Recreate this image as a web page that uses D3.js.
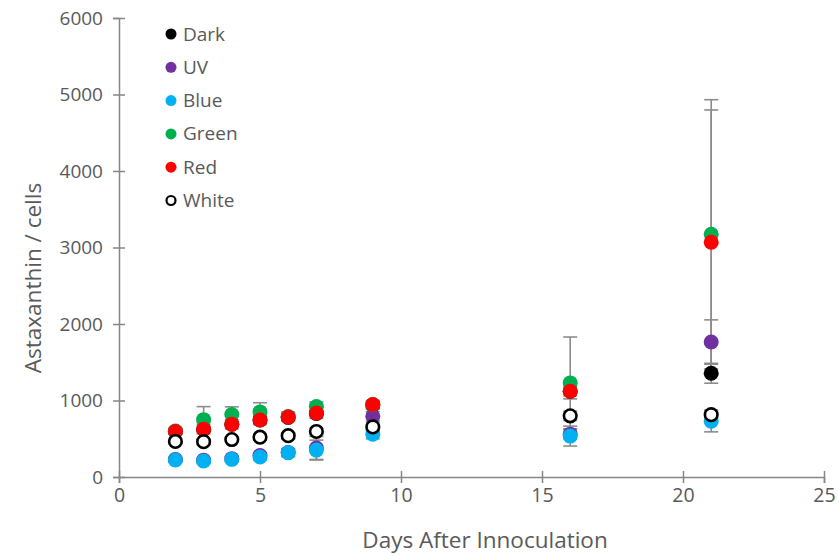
<!DOCTYPE html>
<html>
<head>
<meta charset="utf-8">
<script src="https://cdn.jsdelivr.net/npm/d3@7"></script>
<style>
  body { margin: 0; background: #fff; }
  svg { display: block; }
  text { font-family: "Open Sans", "Lato", sans-serif; fill: #595959; }
</style>
</head>
<body>
<svg id="chart" width="839" height="556"></svg>
<script>
// Sampling days
const days = [2, 3, 4, 5, 6, 7, 9, 16, 21];

// Astaxanthin per cell for each light condition
const darkVals  = [595, 625, 690, 745, 780, 830, 940, 1121, 1356];
const uvVals    = [230, 220, 240, 280, 320, 380, 795, 560, 1764];
const blueVals  = [222, 209, 231, 261, 317, 352, 560, 535, 730];
const greenVals = [600, 750, 817, 851, 790, 920, 945, 1230, 3172];
const redVals   = [595, 625, 690, 745, 785, 836, 948, 1121, 3068];
const whiteVals = [465, 462, 490, 520, 540, 595, 655, 800, 815];

// Standard deviations
const darkErr  = [30, 30, 30, 40, 40, 40, 50, 60, 130];
const uvErr    = [30, 30, 30, 40, 50, 150, 60, 60, 290];
const blueErr  = [30, 30, 30, 40, 50, 130, 60, 130, 140];
const greenErr = [40, 170, 100, 120, 60, 60, 50, 600, 1760];
const redErr   = [30, 60, 60, 60, 50, 70, 40, 100, 1730];
const whiteErr = [30, 30, 30, 40, 40, 40, 60, 60, 60];

const seriesNames = ["Dark", "UV", "Blue", "Green", "Red", "White"];
const seriesColors = ["#000000", "#7030A0", "#00B0F0", "#00B050", "#FF0000", "#000000"];
const seriesVals = [darkVals, uvVals, blueVals, greenVals, redVals, whiteVals];
const seriesErrs = [darkErr, uvErr, blueErr, greenErr, redErr, whiteErr];

const xTicks = [0, 5, 10, 15, 20, 25];
const yTicks = [0, 1000, 2000, 3000, 4000, 5000, 6000];

const svg = d3.select("#chart");
const plotLeft = 119, plotRight = 824, plotTop = 18, plotBottom = 477;

const x = d3.scaleLinear().domain([0, 25]).range([plotLeft, plotRight]);
const y = d3.scaleLinear().domain([0, 6000]).range([plotBottom, plotTop]);

const axisColor = "#868686";

// Y axis
const yAxis = svg.append("g").attr("transform", `translate(${plotLeft},0)`)
  .call(d3.axisLeft(y).tickValues(yTicks).tickSize(6).tickPadding(10).tickFormat(d3.format("d")));
yAxis.select(".domain").attr("stroke", axisColor).attr("stroke-width", 1.5);
yAxis.selectAll(".tick line").attr("stroke", axisColor).attr("stroke-width", 1.5).attr("x2", 6).attr("x1", -6);
yAxis.selectAll(".tick text").attr("font-size", 19).style("fill", "#595959")
  .attr("font-family", "Open Sans, sans-serif");

// X axis
const xAxis = svg.append("g").attr("transform", `translate(0,${plotBottom})`)
  .call(d3.axisBottom(x).tickValues(xTicks).tickSize(6).tickPadding(5));
xAxis.select(".domain").attr("stroke", axisColor).attr("stroke-width", 1.5);
xAxis.selectAll(".tick line").attr("stroke", axisColor).attr("stroke-width", 1.5).attr("y1", -6).attr("y2", 6);
xAxis.selectAll(".tick text").attr("font-size", 19.5).style("fill", "#595959")
  .attr("font-family", "Open Sans, sans-serif");

// Axis titles
svg.append("text").attr("x", 485).attr("y", 548)
  .attr("text-anchor", "middle").attr("font-size", 22.5).text("Days After Innoculation");
svg.append("text").attr("transform", "translate(41,278) rotate(-90)")
  .attr("text-anchor", "middle").attr("font-size", 22.5).text("Astaxanthin / cells");

// Error bars, then markers, series by series
const errColor = "#8c8c8c";
const capHalf = 7;
const plot = svg.append("g");

seriesNames.forEach((name, si) => {
  const vals = seriesVals[si], errs = seriesErrs[si];
  const g = plot.append("g");
  days.forEach((d, i) => {
    const cx = x(d), lo = y(vals[i] - errs[i]), hi = y(vals[i] + errs[i]);
    g.append("line").attr("x1", cx).attr("x2", cx).attr("y1", lo).attr("y2", hi)
      .attr("stroke", errColor).attr("stroke-width", 1.6);
    [lo, hi].forEach(yy => g.append("line")
      .attr("x1", cx - capHalf).attr("x2", cx + capHalf).attr("y1", yy).attr("y2", yy)
      .attr("stroke", errColor).attr("stroke-width", 1.6));
  });
});

seriesNames.forEach((name, si) => {
  const vals = seriesVals[si];
  const isOpen = name === "White";
  plot.append("g").selectAll("circle").data(days).join("circle")
    .attr("cx", d => x(d))
    .attr("cy", (d, i) => y(vals[i]))
    .attr("r", isOpen ? 6.3 : 7.5)
    .attr("fill", isOpen ? "#ffffff" : seriesColors[si])
    .attr("stroke", isOpen ? "#000000" : "none")
    .attr("stroke-width", isOpen ? 2.6 : 0);
});

// Legend
const legend = svg.append("g");
seriesNames.forEach((name, si) => {
  const ly = 34 + si * 33.3;
  const isOpen = name === "White";
  legend.append("circle").attr("cx", 171).attr("cy", ly)
    .attr("r", isOpen ? 4.5 : 5.5)
    .attr("fill", isOpen ? "#ffffff" : seriesColors[si])
    .attr("stroke", isOpen ? "#000000" : "none")
    .attr("stroke-width", isOpen ? 2.2 : 0);
  legend.append("text").attr("x", 183).attr("y", ly + 6.5)
    .attr("font-size", 19).text(name);
});
</script>
</body>
</html>
